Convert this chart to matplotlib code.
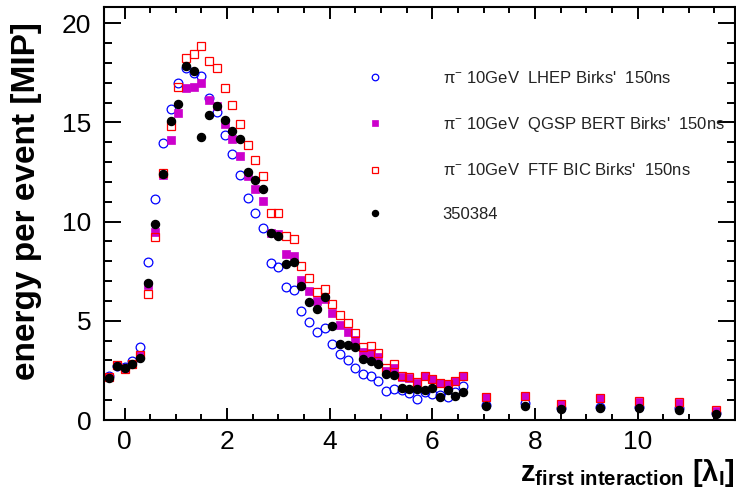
import numpy as np
import matplotlib
matplotlib.use("Agg")
import matplotlib.pyplot as plt
from matplotlib.ticker import MultipleLocator

plt.rcParams['font.family'] = ['Liberation Sans', 'DejaVu Sans']
plt.rcParams['mathtext.fontset'] = 'custom'
plt.rcParams['mathtext.rm'] = 'Liberation Sans'
plt.rcParams['mathtext.it'] = 'Liberation Sans:italic'
plt.rcParams['mathtext.bf'] = 'Liberation Sans:bold'

# depth of first interaction [lambda_I]
z = [-0.3, -0.15, 0.0, 0.15, 0.3, 0.45, 0.6, 0.75, 0.9, 1.05,
     1.2, 1.35, 1.5, 1.65, 1.8, 1.95, 2.1, 2.25, 2.4, 2.55,
     2.7, 2.85, 3.0, 3.15, 3.3, 3.45, 3.6, 3.75, 3.9, 4.05,
     4.2, 4.35, 4.5, 4.65, 4.8, 4.95, 5.1, 5.25, 5.4, 5.55,
     5.7, 5.85, 6.0, 6.15, 6.3, 6.45, 6.6,
     7.05, 7.8, 8.5, 9.27, 10.03, 10.8, 11.53]

lhep = [2.2, 2.7, 2.65, 2.95, 3.69, 7.94, 11.12, 13.97, 15.67, 16.99,
        17.75, 17.5, 17.36, 16.25, 15.5, 14.36, 13.4, 12.34, 11.17, 10.41,
        9.66, 7.89, 7.72, 6.68, 6.53, 5.47, 4.95, 4.45, 4.62, 3.83,
        3.32, 3.0, 2.64, 2.32, 2.24, 1.98, 1.44, 1.56, 1.51, 1.34,
        1.04, 1.43, 1.29, 1.26, 1.17, 1.39, 1.71,
        0.78, 0.88, 0.62, 0.68, 0.66, 0.58, 0.35]

qgsp = [2.15, 2.75, 2.6, 2.82, 3.27, 6.8, 9.5, 12.35, 14.1, 15.48,
        16.71, 16.76, 16.99, 16.15, 15.8, 14.9, 14.16, 13.32, 12.29, 11.64,
        11.03, 9.4, 9.35, 8.36, 8.28, 7.05, 6.51, 6.01, 6.1, 5.37,
        4.78, 4.45, 4.03, 3.44, 3.36, 3.19, 2.47, 2.6, 2.15, 2.1,
        1.85, 2.2, 2.05, 1.87, 1.8, 1.97, 2.23,
        1.14, 1.21, 0.79, 1.09, 0.92, 0.87, 0.45]

ftf = [2.15, 2.75, 2.58, 2.8, 3.27, 6.35, 9.24, 12.43, 14.81, 16.79,
       18.25, 18.47, 18.86, 18.09, 17.75, 16.74, 15.9, 14.9, 13.85, 13.1,
       12.31, 10.41, 10.41, 9.27, 9.13, 7.76, 7.17, 6.46, 6.58, 5.84,
       5.29, 4.87, 4.36, 3.69, 3.74, 3.39, 2.6, 2.8, 2.23, 2.18,
       1.9, 2.23, 2.05, 1.85, 1.8, 1.96, 2.23,
       1.16, 1.23, 0.82, 1.12, 0.95, 0.9, 0.48]

data = [2.13, 2.74, 2.6, 2.8, 3.14, 6.92, 9.86, 12.38, 15.08, 15.92,
        17.83, 17.58, 14.26, 15.37, 15.84, 15.11, 14.56, 14.14, 12.51, 12.12,
        11.62, 9.4, 9.27, 7.86, 7.94, 6.75, 5.96, 5.58, 6.18, 4.75,
        3.83, 3.78, 3.69, 3.06, 2.97, 2.82, 2.32, 2.27, 1.6, 1.57,
        1.57, 1.51, 1.63, 1.17, 1.51, 1.21, 1.39,
        0.72, 0.71, 0.54, 0.59, 0.59, 0.5, 0.29]

labels = [r"π$^{-}$ 10GeV  LHEP Birks'  150ns",
          r"π$^{-}$ 10GeV  QGSP BERT Birks'  150ns",
          r"π$^{-}$ 10GeV  FTF BIC Birks'  150ns",
          "350384"]

fig = plt.figure(figsize=(7.36, 4.99), dpi=100)
ax = fig.add_axes([0.1413, 0.1583, 0.8573, 0.8271])

ax.plot(z, lhep, "o", ls="none", ms=6.3, mfc="none", mec="#0000ff", mew=0.9, label=labels[0])
ax.plot(z, qgsp, "s", ls="none", ms=5.8, mfc="#cc00cc", mec="#cc00cc", mew=0.5, label=labels[1])
ax.plot(z, ftf, "s", ls="none", ms=6.3, mfc="none", mec="#ff0000", mew=0.9, label=labels[2])
ax.plot(z, data, "o", ls="none", ms=5.8, mfc="black", mec="black", label=labels[3])

ax.set_xlim(-0.4, 11.9)
ax.set_ylim(0, 20.8)
ax.xaxis.set_major_locator(MultipleLocator(2))
ax.xaxis.set_minor_locator(MultipleLocator(0.5))
ax.yaxis.set_major_locator(MultipleLocator(5))
ax.yaxis.set_minor_locator(MultipleLocator(1))
ax.tick_params(axis="both", which="both", direction="in", top=True, right=True,
               width=1.4, labelsize=19)
ax.tick_params(axis="x", which="major", length=8.5, pad=7)
ax.tick_params(axis="x", which="minor", length=4)
ax.tick_params(axis="y", which="major", length=12, pad=9)
ax.tick_params(axis="y", which="minor", length=5.5)
for s in ax.spines.values():
    s.set_linewidth(1.5)

ax.set_ylabel("energy per event [MIP]", fontsize=24, fontweight="bold")
ax.yaxis.set_label_coords(-0.098, 0.53)
fig.text(0.998, 0.02, r"$\mathbf{z_{first\ interaction}\ [\lambda_{I}]}$",
         fontsize=21, ha="right", va="bottom")

leg = ax.legend(loc="upper left", bbox_to_anchor=(0.418, 0.848), frameon=False,
                fontsize=12, markerscale=0.75, handlelength=0.9,
                handletextpad=3.6, labelspacing=1.72, borderpad=0, borderaxespad=0)
for t in leg.get_texts():
    t.set_color("#222222")

fig.savefig("out.png", dpi=100)
